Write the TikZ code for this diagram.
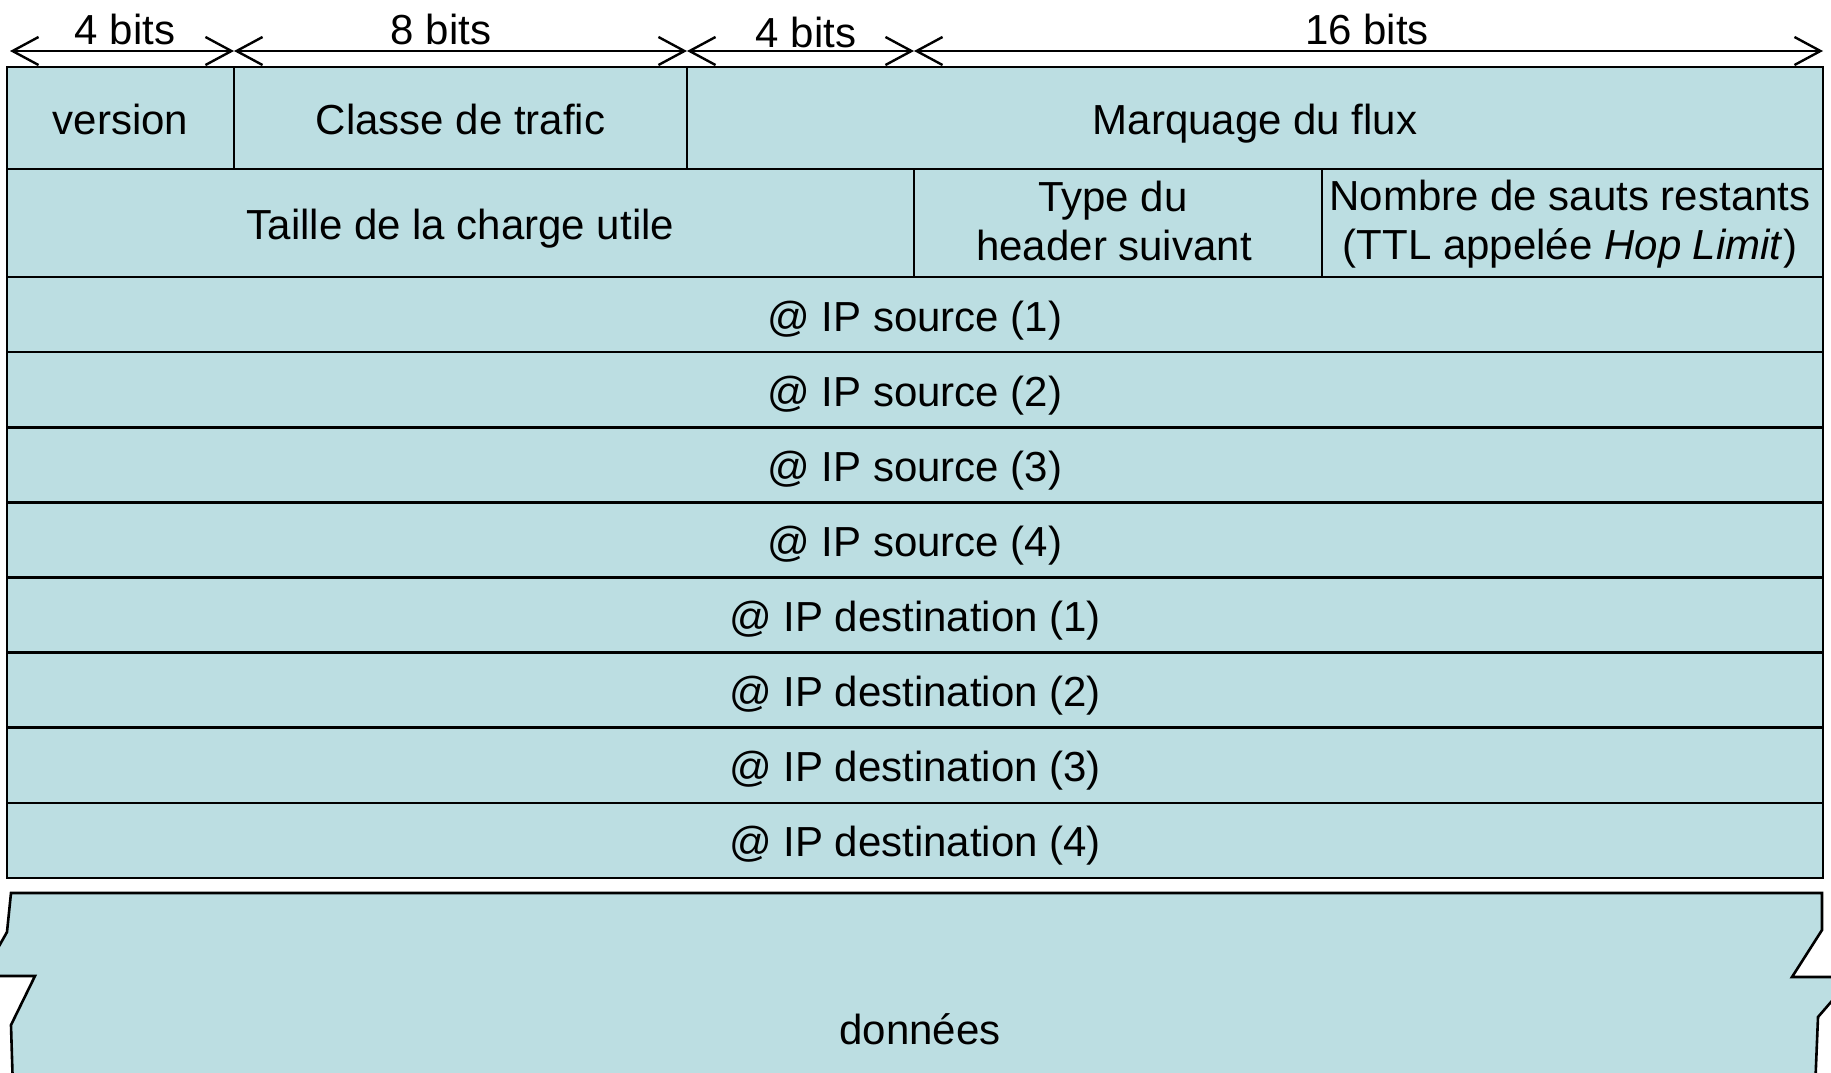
\documentclass[tikz,border=0pt]{standalone}
\usepackage{fontspec}
\setmainfont{Liberation Sans}
\usetikzlibrary{arrows.meta}
\definecolor{hdrfill}{RGB}{188,222,226}
\begin{document}
\begin{tikzpicture}[x=1pt,y=-1pt,
  txt/.style={font=\fontsize{42}{53}\selectfont},
  cell/.style={txt, draw=black, line width=2.6pt, fill=hdrfill, rectangle,
    inner sep=0pt, outer sep=0pt, text height=33pt, text depth=0pt},
  dim/.style={line width=2.4pt,
    {Straight Barb[length=26pt,width=28pt]}-{Straight Barb[length=26pt,width=28pt]}},
  baselabel/.style={txt, anchor=base, inner sep=0pt}]
\useasboundingbox (0,0) rectangle (1831,1072);

% bit-width dimension lines above the header
\coordinate (b0) at (10,51);
\coordinate (b1) at (234,51);
\coordinate (b2) at (687,51);
\coordinate (b3) at (914,51);
\coordinate (b4) at (1823,51);
\draw[dim] (b0) -- (b1);
\draw[dim] (b1) -- (b2);
\draw[dim] (b2) -- (b3);
\draw[dim] (b3) -- (b4);
\node[baselabel] (l4a) at (125,44) {4 bits};
\node[baselabel] (l8) at (441,44) {8 bits};
\node[baselabel] (l4b) at (806,47) {4 bits};
\node[baselabel] (l16) at (1367,44) {16 bits};

% first header word
\node[cell, minimum width=227, minimum height=102] (version) at (120.5,118) {version};
\node[cell, minimum width=453, minimum height=102] (classe) at (460.5,118) {Classe de trafic};
\node[cell, minimum width=1136, minimum height=102] (flux) at (1255,118) {Marquage du flux};

% second header word
\node[cell, minimum width=907, minimum height=108] (taille) at (460.5,223) {Taille de la charge utile};
\node[cell, minimum width=408, minimum height=108] (type) at (1118,223) {};
\node[cell, minimum width=501, minimum height=108] (sauts) at (1572.5,223) {};
\node[baselabel] (typeA) at (1113,211) {Type du};
\node[baselabel] (typeB) at (1114,260) {header suivant};
\node[baselabel] (sautsA) at (1570,210) {Nombre de sauts restants};
\node[baselabel] (sautsB) at (1570,259) {(TTL appelée \textit{Hop Limit})};

% source and destination addresses
\foreach \i/\lbl in {1/source (1),2/source (2),3/source (3),4/source (4),
                     5/destination (1),6/destination (2),7/destination (3),8/destination (4)}
  \node[cell, minimum width=1816, minimum height=75.125] (ip\i)
    at (915,{277+75.125*(\i-0.5)}) {@ IP \lbl};

% payload block with broken edges
\begin{scope}
  \clip (0,0) rectangle (1831,1072);
  \draw[line width=2.6pt, fill=hdrfill, line join=miter]
    (11,893) -- (1822,893) -- (1822,930) -- (1792,977) -- (1850,977)
    -- (1850,980) -- (1818,1017) -- (1815,1090) -- (13,1090) -- (11,1025)
    -- (35,976) -- (-20,976) -- (-20,980) -- (7,932) -- cycle;
\end{scope}
\node[txt, inner sep=0pt] (donnees) at (920,1029) {données};
\end{tikzpicture}
\end{document}
